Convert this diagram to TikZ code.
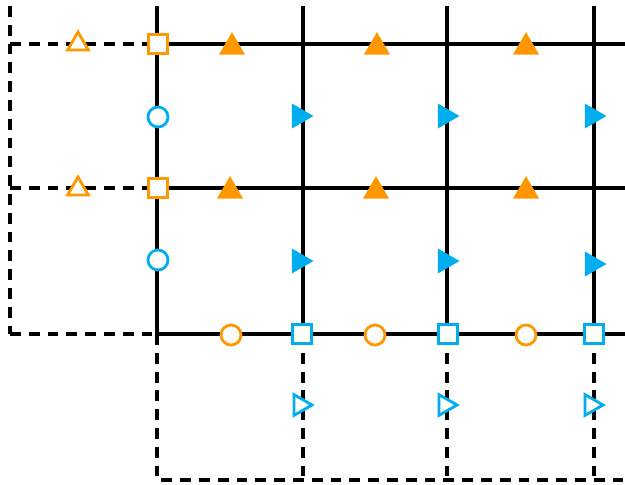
\documentclass[tikz,border=0pt]{standalone}
\usepackage{tikz}
\usetikzlibrary{shapes.geometric, positioning}
\definecolor{markorange}{RGB}{255,152,0}
\definecolor{markblue}{RGB}{0,174,239}

\begin{document}
\begin{tikzpicture}[
    x=0.02cm, y=-0.02cm,
    grid/.style={line width=2pt, black},
    ghost/.style={line width=2pt, black, dash pattern=on 6.2pt off 4.5pt},
    osquare/.style={rectangle, draw=markorange, fill=white, line width=1.6pt, minimum size=0.37cm, inner sep=0pt},
    bsquare/.style={rectangle, draw=markblue, fill=white, line width=1.6pt, minimum size=0.37cm, inner sep=0pt},
    ocirc/.style={circle, draw=markorange, fill=white, line width=1.6pt, minimum size=0.4cm, inner sep=0pt},
    bcirc/.style={circle, draw=markblue, fill=white, line width=1.6pt, minimum size=0.4cm, inner sep=0pt},
    oup/.style={regular polygon, regular polygon sides=3, fill=markorange, minimum size=0.6cm, inner sep=0pt},
    oupopen/.style={regular polygon, regular polygon sides=3, draw=markorange, fill=white, line width=1.6pt, minimum size=0.48cm, inner sep=0pt},
    bright/.style={regular polygon, regular polygon sides=3, shape border rotate=-90, fill=markblue, minimum size=0.58cm, inner sep=0pt},
    brightopen/.style={regular polygon, regular polygon sides=3, shape border rotate=-90, draw=markblue, fill=white, line width=1.6pt, minimum size=0.48cm, inner sep=0pt}
]
\useasboundingbox (0,0) rectangle (625,484);

% Ghost cells (dashed)
\draw[ghost] (10,6) -- (10,334);
\draw[ghost] (10,44) -- (157,44);
\draw[ghost] (10,188) -- (157,188);
\draw[ghost] (10,334) -- (157,334);
\draw[ghost] (157,334) -- (157,480) -- (625,480);
\draw[ghost] (303,334) -- (303,480);
\draw[ghost] (447,334) -- (447,480);
\draw[ghost] (594,334) -- (594,480);

% Interior grid
\draw[grid] (157,6) -- (157,334);
\draw[grid] (303,6) -- (303,334);
\draw[grid] (447,6) -- (447,334);
\draw[grid] (594,6) -- (594,334);
\draw[grid] (157,44) -- (625,44);
\draw[grid] (157,188) -- (625,188);
\draw[grid] (157,334) -- (625,334);

% Ghost markers
\node[oupopen] (vghost1) at (78,44) {};
\node[oupopen] (vghost2) at (78,189) {};
\node[brightopen] (ughost1) at (300,405) {};
\node[brightopen] (ughost2) at (445,405) {};
\node[brightopen] (ughost3) at (591,405) {};

% Boundary markers
\node[osquare] (bdryL1) at (158,44) {};
\node[osquare] (bdryL2) at (158,188) {};
\node[bcirc] (wallL1) at (158,117) {};
\node[bcirc] (wallL2) at (158,260) {};
\node[ocirc] (wallB1) at (231,335) {};
\node[ocirc] (wallB2) at (375,335) {};
\node[ocirc] (wallB3) at (526,335) {};
\node[bsquare] (bdryB1) at (302,334) {};
\node[bsquare] (bdryB2) at (448,334) {};
\node[bsquare] (bdryB3) at (594,334) {};

% Interior markers
\node[oup] (v11) at (232,47) {};
\node[oup] (v12) at (377,47) {};
\node[oup] (v13) at (526,47) {};
\node[oup] (v21) at (230,191) {};
\node[oup] (v22) at (376,191) {};
\node[oup] (v23) at (526,191) {};
\node[bright] (u11) at (299,116) {};
\node[bright] (u12) at (445,116) {};
\node[bright] (u13) at (592,116) {};
\node[bright] (u21) at (299,261) {};
\node[bright] (u22) at (445,261) {};
\node[bright] (u23) at (592,264) {};

\end{tikzpicture}
\end{document}
